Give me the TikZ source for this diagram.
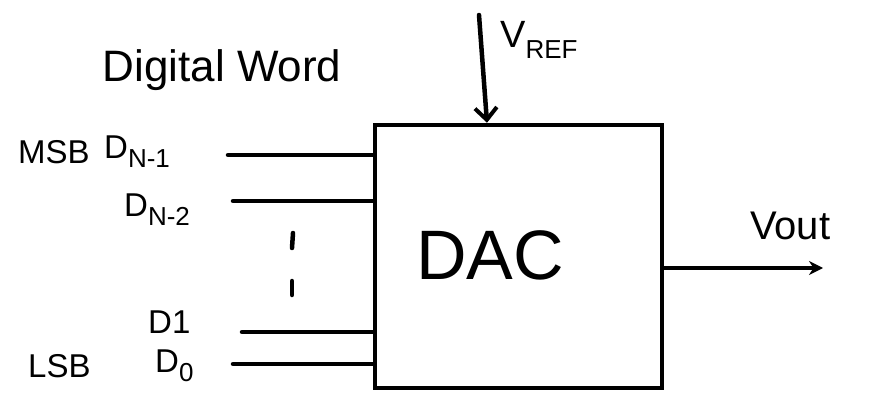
\documentclass[tikz,border=0pt]{standalone}
\usepackage{fontspec}
\setmainfont{Liberation Sans}
\usetikzlibrary{arrows.meta}
\newcommand{\bigsub}[1]{\raisebox{-0.28em}{\fontsize{26}{28}\selectfont #1}}
\begin{document}
\begin{tikzpicture}[x=1pt,y=-1pt,
  wire/.style={line width=4.5pt, line cap=round},
  lbl/.style={inner sep=0pt, font=\fontsize{33}{36}\selectfont},
  dacbox/.style={draw, line width=4.5pt, minimum width=287pt, minimum height=263pt, inner sep=0pt}]
\useasboundingbox (0,0) rectangle (880,395);
\node[dacbox] (dac) at (518.5,256.5) {};
\node[inner sep=0pt, font=\fontsize{70}{76}\selectfont] (dactext) at (490,255) {DAC};
% Vref
\coordinate (vrefstart) at (479,15);
\draw[wire, -{Straight Barb[length=12pt,width=22pt,line width=4pt]}] (vrefstart) -- (dac.north -| 487,0);
\node[lbl, anchor=west, font=\fontsize{38}{40}\selectfont] (vref) at (500,40) {V\bigsub{REF}};
% title
\node[lbl, font=\fontsize{44}{48}\selectfont] (title) at (222,70) {Digital Word};
% inputs
\coordinate (i1) at (228,155);
\coordinate (i2) at (233,201);
\coordinate (i3) at (242,332);
\coordinate (i4) at (233,364);
\draw[wire] (i1) -- (i1 -| dac.west);
\draw[wire] (i2) -- (i2 -| dac.west);
\draw[wire] (i3) -- (i3 -| dac.west);
\draw[wire] (i4) -- (i4 -| dac.west);
\node[lbl, anchor=west] (dn1) at (104,152) {D\bigsub{N-1}};
\node[lbl, anchor=west] (msb) at (18,152) {MSB};
\node[lbl, anchor=west] (dn2) at (124,210) {D\bigsub{N-2}};
\node[lbl, anchor=west] (d1) at (148,322) {D1};
\node[lbl, anchor=west] (d0) at (155,366) {D\bigsub{0}};
\node[lbl, anchor=west] (lsb) at (28,366) {LSB};
% dots
\coordinate (dot1a) at (293,233);
\coordinate (dot1b) at (292,248);
\coordinate (dot2a) at (292,281);
\coordinate (dot2b) at (292,295);
\draw[wire] (dot1a) -- (dot1b);
\draw[wire] (dot2a) -- (dot2b);
% output
\coordinate (outend) at (823,268);
\draw[wire, -{Stealth[length=14pt,width=14pt]}] (dac.east |- outend) -- (outend);
\node[lbl, anchor=west, font=\fontsize{40}{44}\selectfont] (vout) at (750,226) {Vout};
\end{tikzpicture}
\end{document}
